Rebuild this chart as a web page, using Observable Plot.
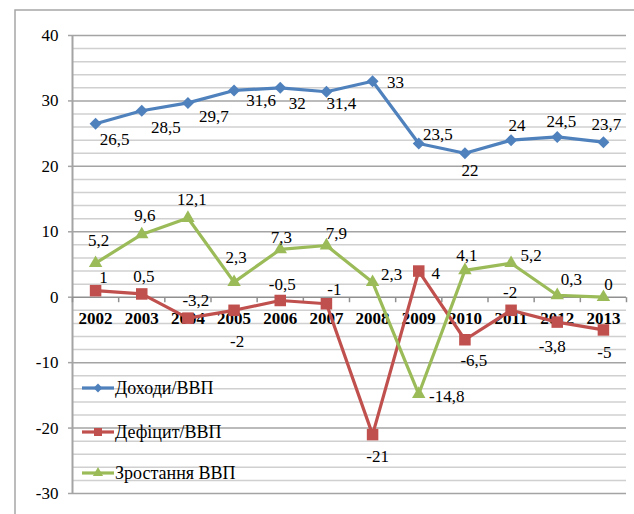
<!DOCTYPE html>
<html><head><meta charset="utf-8">
<script src="https://cdn.jsdelivr.net/npm/d3@7"></script>
<script src="https://cdn.jsdelivr.net/npm/@observablehq/plot@0.6"></script>
<style>
body{margin:0;background:#fff;}
#chart{position:relative;width:634px;height:514px;overflow:hidden;}
#chart svg, #chart svg text{font-family:"Liberation Serif","Times New Roman",serif !important;}
</style>
</head><body><div id="chart"></div>
<script>
const years = [2002,2003,2004,2005,2006,2007,2008,2009,2010,2011,2012,2013];
const income = [26.5,28.5,29.7,31.6,32,31.4,33,23.5,22,24,24.5,23.7];
const deficit = [1,0.5,-3.2,-2,-0.5,-1,-21,4,-6.5,-2,-3.8,-5];
const growth = [5.2,9.6,12.1,2.3,7.3,7.9,2.3,-14.8,4.1,5.2,0.3,0];
const seriesNames = ["Доходи/ВВП","Дефіцит/ВВП","Зростання ВВП"];
const yTicks = [-30,-20,-10,0,10,20,30,40];

// label placement (pixel offsets from each point), kept apart from the values
const incomeLabelOffsets = [[19,16],[24,17],[26,14],[27,10],[17,16],[15,12],[23,1],[19,-9],[5,17],[6,-15],[4,-15],[3,-18]];
const deficitLabelOffsets = [[8,-13],[2,-17],[8,-18],[3,31],[2,-16],[8,-14],[5,22],[17,3],[9,21],[-1,-18],[-5,24],[1,23]];
const growthLabelOffsets = [[3,-23],[3,-19],[4,-18],[2,-25],[1,-12],[10,-12],[19,-8],[28,2],[2,-15],[20,-8],[14,-16],[5,-13]];

const colors = ["#4F81BD","#C0504D","#9BBB59"];
const symbols = ["diamond2","square","triangle"];
const radii = [5.4,6.5,5];
const serif = "Liberation Serif, Times New Roman, serif";

const seriesValues = [income, deficit, growth];
const seriesOffsets = [incomeLabelOffsets, deficitLabelOffsets, growthLabelOffsets];
const fmt = v => String(v).replace(".", ",");

const minorGrid = d3.range(-30, 41, 2).filter(v => v % 10 !== 0);
const majorGrid = yTicks.filter(v => v !== 0 && v !== -30);
const boundaries = d3.range(years.length + 1).map(i => years[0] - 0.5 + i);

const tickSymbol = {draw(ctx){ ctx.moveTo(0,0); ctx.lineTo(0,5); }};

const marks = [
  Plot.ruleY(minorGrid, {stroke:"#d0d0d0", strokeWidth:1.5}),
  Plot.ruleY(majorGrid, {stroke:"#a4a4a4", strokeWidth:1.5}),
  Plot.ruleY([-30], {stroke:"#a4a4a4", strokeWidth:1.5}),
  Plot.axisY({ticks:yTicks, label:null, tickSize:4, tickPadding:10, tickFormat:d=>String(d), fontSize:17, fill:"#000", stroke:"#a4a4a4", strokeWidth:1.5}),
  Plot.ruleX([years[0]-0.5], {stroke:"#a4a4a4", strokeWidth:2}),
  Plot.ruleY([0], {stroke:"#909090", strokeWidth:1.5}),
  Plot.dot(boundaries, {x:d=>d, y:d=>0, symbol:tickSymbol, stroke:"#909090", strokeWidth:1.5, r:3}),
  Plot.text(years, {x:d=>d, y:d=>0, dy:21, text:d=>String(d), fontSize:17, fontWeight:"bold", fill:"#000"})
];

seriesValues.forEach((vals, s) => {
  const rows = years.map((y, i) => ({year:y, value:vals[i]}));
  marks.push(Plot.line(rows, {x:"year", y:"value", stroke:colors[s], strokeWidth:3.2}));
  marks.push(Plot.dot(rows, {x:"year", y:"value", symbol:symbols[s], r:radii[s], fill:colors[s], stroke:"none"}));
});
seriesValues.forEach((vals, s) => {
  vals.forEach((v, i) => {
    const [dx, dy] = seriesOffsets[s][i];
    marks.push(Plot.text([{year:years[i], value:v}], {x:"year", y:"value", text:d=>fmt(d.value), dx, dy, fontSize:17, fill:"#000"}));
  });
});

const plot = Plot.plot({
  width:634, height:514,
  marginLeft:72, marginRight:8, marginTop:35, marginBottom:21,
  x:{type:"linear", domain:[years[0]-0.5, years[years.length-1]+0.5], axis:null},
  y:{domain:[-30,40], axis:null},
  style:{background:"#fff", overflow:"hidden", fontFamily:serif},
  marks
});
document.getElementById("chart").appendChild(plot);

const svg = d3.select(plot);
// outer chart border
svg.append("rect").attr("x",15).attr("y",10).attr("width",700).attr("height",700)
  .attr("fill","none").attr("stroke","#a6a6a6").attr("stroke-width",1.5);

// legend
const legendY = [388, 432, 473];
const d3syms = {diamond2:d3.symbolDiamond2, square:d3.symbolSquare, triangle:d3.symbolTriangle};
const legendSizes = [50, 64, 45];
const lg = svg.append("g").attr("text-anchor","start");
seriesNames.forEach((name, s) => {
  const g = lg.append("g").attr("transform", `translate(82,${legendY[s]})`);
  g.append("line").attr("x1",0).attr("x2",32).attr("y1",0).attr("y2",0)
    .attr("stroke",colors[s]).attr("stroke-width",3.2);
  g.append("path").attr("transform","translate(16,0)")
    .attr("d", d3.symbol(d3syms[symbols[s]], legendSizes[s])()).attr("fill",colors[s]).attr("stroke","none");
  g.append("text").attr("x",33).attr("y",0).attr("dy","0.32em").attr("text-anchor","start")
    .attr("font-size",18).attr("fill","#000").text(name);
});
</script>
</body></html>
